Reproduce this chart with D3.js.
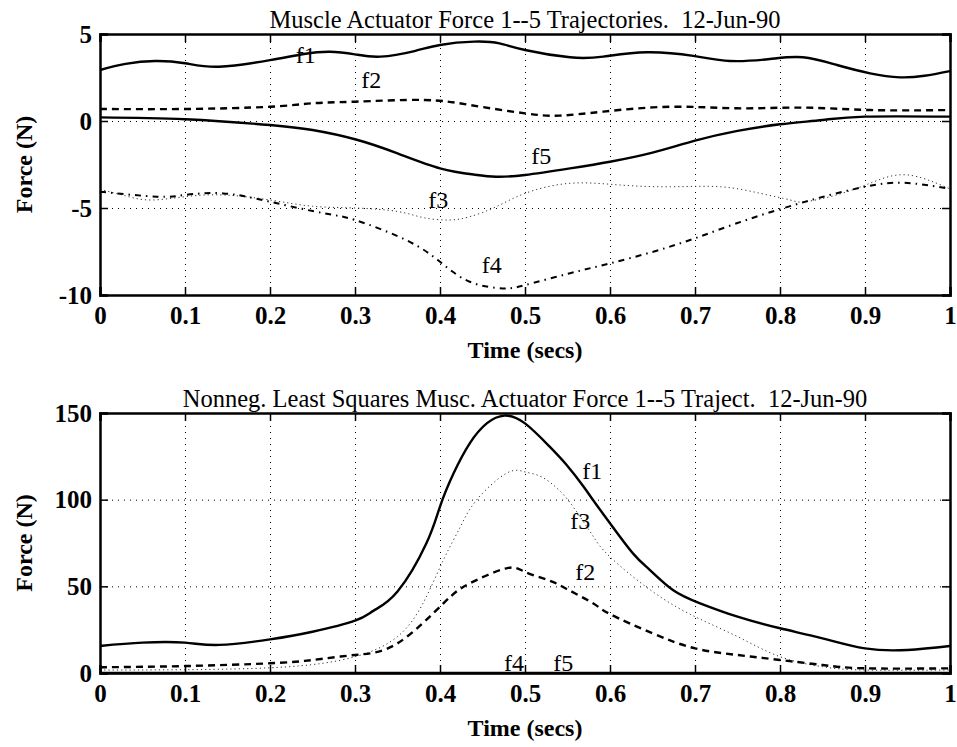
<!DOCTYPE html>
<html><head><meta charset="utf-8">
<script src="https://cdn.jsdelivr.net/npm/d3@7"></script>
<style>
body{margin:0;background:#fff;}
svg{display:block;}
text{font-family:"Liberation Serif","Times New Roman",serif;fill:#000;white-space:pre;}
</style></head>
<body><svg id="c" width="957" height="747"></svg>
<script>
// ---------- data ----------
const xTicks = [0,0.1,0.2,0.3,0.4,0.5,0.6,0.7,0.8,0.9,1];
const topYTicks = [-10,-5,0,5];
const botYTicks = [0,50,100,150];

const topTitle = "Muscle Actuator Force 1--5 Trajectories.  12-Jun-90";
const botTitle = "Nonneg. Least Squares Musc. Actuator Force 1--5 Traject.  12-Jun-90";

// top plot
const tF1t = [0,0.03,0.065,0.1,0.14,0.2,0.24,0.27,0.3,0.33,0.37,0.4,0.44,0.47,0.5,0.553,0.592,0.643,0.698,0.741,0.788,0.827,0.867,0.906,0.941,0.97,1];
const tF1v = [2.93,3.28,3.45,3.32,3.12,3.5,3.85,3.98,3.83,3.7,4.02,4.37,4.56,4.46,4.08,3.66,3.7,3.95,3.74,3.45,3.56,3.66,3.22,2.74,2.51,2.6,2.87];
const tF2t = [0,0.1,0.2,0.25,0.3,0.38,0.435,0.5,0.541,0.592,0.671,0.749,0.827,0.906,1];
const tF2v = [0.69,0.69,0.82,1.02,1.11,1.21,0.92,0.44,0.31,0.54,0.82,0.73,0.77,0.63,0.63];
const tF3t = [0,0.03,0.059,0.1,0.145,0.2,0.25,0.3,0.35,0.38,0.41,0.435,0.466,0.5,0.553,0.612,0.671,0.73,0.777,0.812,0.83,0.87,0.91,0.95,1];
const tF3v = [-3.93,-4.3,-4.54,-4.35,-4.25,-4.54,-4.9,-5.0,-5.2,-5.55,-5.69,-5.5,-4.93,-4.16,-3.58,-3.68,-3.78,-3.78,-4.16,-4.54,-4.64,-4.2,-3.5,-3.1,-3.9];
const tF4t = [0,0.067,0.1,0.145,0.2,0.263,0.3,0.36,0.4,0.435,0.474,0.5,0.553,0.6,0.651,0.7,0.749,0.8,0.851,0.9,0.945,1];
const tF4v = [-4.06,-4.35,-4.25,-4.16,-4.64,-5.3,-5.69,-6.84,-8.09,-9.24,-9.62,-9.43,-8.75,-8.18,-7.51,-6.74,-5.88,-5.07,-4.35,-3.78,-3.55,-3.9];
const tF5t = [0,0.1,0.2,0.25,0.3,0.35,0.4,0.44,0.466,0.5,0.553,0.6,0.65,0.7,0.75,0.8,0.85,0.9,1];
const tF5v = [0.21,0.1,-0.23,-0.52,-1.05,-1.86,-2.72,-3.08,-3.2,-3.1,-2.72,-2.34,-1.82,-1.13,-0.57,-0.19,0.06,0.25,0.25];

// bottom plot
const bF1t = [0,0.05,0.1,0.14,0.2,0.25,0.3,0.322,0.35,0.384,0.4,0.416,0.435,0.455,0.476,0.5,0.529,0.549,0.569,0.58,0.6,0.627,0.647,0.674,0.706,0.75,0.8,0.85,0.9,0.95,1];
const bF1v = [15.6,17.5,17.5,16.2,19.4,23.8,30.2,36,47,74.8,96,115.2,132.5,144,148.5,144,130.6,120,107.5,99.8,86.4,69,59.4,47.9,40.2,32.5,25.8,20,14.2,13.3,15.6];
const bF2t = [0,0.1,0.2,0.25,0.3,0.35,0.404,0.435,0.478,0.5,0.529,0.549,0.58,0.6,0.65,0.7,0.75,0.8,0.85,0.9,1];
const bF2v = [3.3,4,5.6,7.5,10.4,17.1,40.2,51.7,60.4,58.3,53.3,48.5,40.2,34,22.9,14.2,10.4,7.5,4.6,2.7,2.7];
const bF3t = [0,0.2,0.3,0.35,0.38,0.404,0.424,0.443,0.478,0.5,0.52,0.545,0.565,0.58,0.6,0.65,0.7,0.75,0.8,0.85,0.9,1];
const bF3v = [1.7,3,9.4,21,40.2,65.2,84.4,99.8,115.2,116,113,103,90,79,67,47,32.5,21,9.4,3.6,1.7,1.7];
const bF4t = [0,1];
const bF4v = [0,0];
const bF5t = [0,1];
const bF5v = [0,0];

// label positions (data coords, centre of text)
const topLabels = [["f1",0.242,3.79],["f2",0.319,2.36],["f3",0.398,-4.54],["f4",0.461,-8.28],["f5",0.519,-2.01]];
const botLabels = [["f1",0.579,117],["f3",0.565,87.7],["f2",0.571,58.3],["f4",0.487,5.8],["f5",0.545,5.8]];

// ---------- drawing ----------
const svg = d3.select("#c");
const L = 100, R = 950, W = R - L;
const styles = {
  f1:{w:2.4,dash:null,col:"#000"},
  f2:{w:2.4,dash:"7,5",col:"#000"},
  f3:{w:1,dash:"1.2,3",col:"#333"},
  f4:{w:2,dash:"6,5,1.5,5",col:"#000"},
  f5:{w:2.4,dash:null,col:"#000"}
};
const fmt = d => String(d).replace("\u2212","-");

function panel(top, bottom, yDom, yTicks, title, series, labels){
  const H = bottom - top;
  const x = d3.scaleLinear().domain([0,1]).range([L,R]);
  const y = d3.scaleLinear().domain(yDom).range([bottom,top]);
  const g = svg.append("g");

  // grid
  g.append("g").attr("transform",`translate(0,${bottom})`)
    .call(d3.axisBottom(x).tickValues(xTicks.slice(1,-1)).tickSize(-H).tickFormat(""))
    .call(s=>{s.select(".domain").remove();s.selectAll("line").attr("stroke","#000").attr("stroke-width",1).attr("stroke-dasharray","1,5");});
  g.append("g").attr("transform",`translate(${L},0)`)
    .call(d3.axisLeft(y).tickValues(yTicks.slice(1,-1)).tickSize(-W).tickFormat(""))
    .call(s=>{s.select(".domain").remove();s.selectAll("line").attr("stroke","#000").attr("stroke-width",1).attr("stroke-dasharray","1,5");});

  // series
  series.forEach(([name,ts,vs])=>{
    const st = styles[name];
    const pts = ts.map((t,i)=>[t,vs[i]]);
    g.append("path").datum(pts)
      .attr("d", d3.line().x(d=>x(d[0])).y(d=>y(d[1])).curve(d3.curveNatural))
      .attr("fill","none").attr("stroke",st.col).attr("stroke-width",st.w)
      .attr("stroke-dasharray",st.dash);
  });

  // axes with inward ticks
  const tk = 8;
  const ax = g.append("g").attr("transform",`translate(0,${bottom})`)
    .call(d3.axisBottom(x).tickValues(xTicks).tickSize(-tk).tickPadding(11).tickFormat(d=>fmt(d)));
  const ay = g.append("g").attr("transform",`translate(${L},0)`)
    .call(d3.axisLeft(y).tickValues(yTicks).tickSize(-tk).tickPadding(8).tickFormat(d=>fmt(d)));
  const at = g.append("g").attr("transform",`translate(0,${top})`)
    .call(d3.axisTop(x).tickValues(xTicks).tickSize(-tk).tickFormat(""));
  const ar = g.append("g").attr("transform",`translate(${R},0)`)
    .call(d3.axisRight(y).tickValues(yTicks).tickSize(-tk).tickFormat(""));
  [ax,ay,at,ar].forEach(a=>{
    a.select(".domain").attr("stroke","#000").attr("stroke-width",2.5);
    a.selectAll(".tick line").attr("stroke","#000").attr("stroke-width",1.5);
    a.selectAll("text").style("font-family",'"Liberation Serif",serif').style("font-size","25px").style("font-weight","bold").attr("fill","#000");
  });
  ax.selectAll("text").attr("dy","0.71em");

  // title
  g.append("text").attr("x",(L+R)/2).attr("y",top-6).attr("text-anchor","middle")
    .style("font-size","24.5px").text(title);
  // axis labels
  g.append("text").attr("x",(L+R)/2).attr("y",bottom+63).attr("text-anchor","middle")
    .style("font-size","24px").style("font-weight","bold").text("Time (secs)");
  g.append("text").attr("transform",`translate(32,${(top+bottom)/2}) rotate(-90)`).attr("text-anchor","middle")
    .style("font-size","24px").style("font-weight","bold").text("Force (N)");

  // curve labels
  labels.forEach(([t,xt,yv])=>{
    g.append("text").attr("x",x(xt)).attr("y",y(yv)).attr("dy","0.35em").attr("text-anchor","middle")
      .style("font-size","24px").text(t);
  });
}

panel(34, 295, [-10,5], topYTicks, topTitle,
  [["f1",tF1t,tF1v],["f2",tF2t,tF2v],["f3",tF3t,tF3v],["f4",tF4t,tF4v],["f5",tF5t,tF5v]], topLabels);
panel(413, 673, [0,150], botYTicks, botTitle,
  [["f4",bF4t,bF4v],["f5",bF5t,bF5v],["f3",bF3t,bF3v],["f2",bF2t,bF2v],["f1",bF1t,bF1v]], botLabels);
</script></body></html>
